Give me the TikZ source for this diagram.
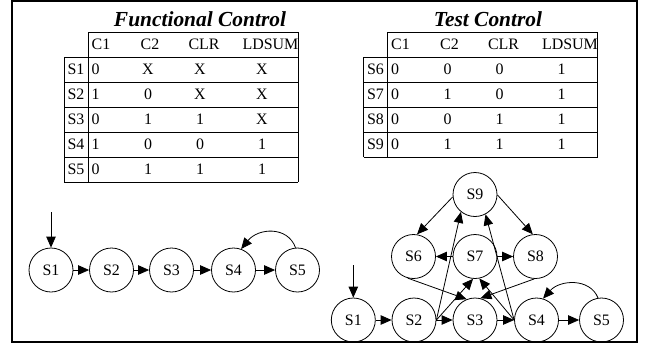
\documentclass[tikz,border=0pt]{standalone}
\usepackage{fontspec}
\setmainfont{Liberation Serif}
\usetikzlibrary{arrows.meta}
\begin{document}
\begin{tikzpicture}[x=1bp,y=-1bp,
  state/.style={draw,circle,minimum size=44bp,inner sep=0pt,line width=0.8bp,
    font=\fontsize{16}{16}\selectfont},
  edge/.style={line width=0.8bp,-{Triangle[length=11bp,width=9.5bp]}},
  grid/.style={line width=0.8bp},
  cell/.style={inner sep=0pt,font=\fontsize{16}{16}\selectfont},
  title/.style={inner sep=0pt,font=\fontsize{21.5}{22}\selectfont\bfseries\itshape}]
\useasboundingbox (0,0) rectangle (645,353);
\draw[line width=2bp] (12,1) rectangle (636.5,342);

% ---------- Functional control table ----------
\node[title] (ftitle) at (200,19.5) {Functional Control};
\draw[grid] (88,32) -- (298,32);
\foreach \y in {57,82,...,182} \draw[grid] (64,\y) -- (298,\y);
\draw[grid] (64,57) -- (64,182);
\draw[grid] (88,32) -- (88,182);
\draw[grid] (298,32) -- (298,182);
\node[cell,anchor=west] (fhc1) at (91.5,44.5) {C1};
\node[cell] (fhc2) at (150,44.5) {C2};
\node[cell] (fhclr) at (204,44.5) {CLR};
\node[cell] (fhld) at (270.5,44.5) {LDSUM};
\foreach \n/\a/\b/\c/\d [count=\i] in {S1/0/X/X/X,S2/1/0/X/X,S3/0/1/1/X,S4/1/0/0/1,S5/0/1/1/1}{
  \pgfmathsetmacro\yy{44.5+25*\i}
  \node[cell] (f\n) at (76,\yy) {\n};
  \node[cell,anchor=west] (f\n-c1) at (91.5,\yy) {\a};
  \node[cell] (f\n-c2) at (148,\yy) {\b};
  \node[cell] (f\n-clr) at (200,\yy) {\c};
  \node[cell] (f\n-ld) at (262,\yy) {\d};
}

% ---------- Test control table ----------
\node[title] (ttitle) at (488,19.5) {Test Control};
\begin{scope}[xshift=299.5bp]
\draw[grid] (88,32) -- (298,32);
\foreach \y in {57,82,...,157} \draw[grid] (64,\y) -- (298,\y);
\draw[grid] (64,57) -- (64,157);
\draw[grid] (88,32) -- (88,157);
\draw[grid] (298,32) -- (298,157);
\node[cell,anchor=west] (thc1) at (91.5,44.5) {C1};
\node[cell] (thc2) at (150,44.5) {C2};
\node[cell] (thclr) at (204,44.5) {CLR};
\node[cell] (thld) at (270.5,44.5) {LDSUM};
\foreach \n/\a/\b/\c/\d [count=\i] in {S6/0/0/0/1,S7/0/1/0/1,S8/0/0/1/1,S9/0/1/1/1}{
  \pgfmathsetmacro\yy{44.5+25*\i}
  \node[cell] (t\n) at (76,\yy) {\n};
  \node[cell,anchor=west] (t\n-c1) at (91.5,\yy) {\a};
  \node[cell] (t\n-c2) at (148,\yy) {\b};
  \node[cell] (t\n-clr) at (200,\yy) {\c};
  \node[cell] (t\n-ld) at (262,\yy) {\d};
}
\end{scope}

% ---------- Functional state sequence ----------
\node[state] (a1) at (51,270) {S1};
\node[state] (a2) at (111.5,270) {S2};
\node[state] (a3) at (171.5,270) {S3};
\node[state] (a4) at (233.5,270) {S4};
\node[state] (a5) at (297.5,270) {S5};
\coordinate (a0) at (51,212);
\draw[edge] (a0) -- (a1);
\draw[edge] (a1) -- (a2);
\draw[edge] (a2) -- (a3);
\draw[edge] (a3) -- (a4);
\draw[edge] (a4) -- (a5);
\draw[edge] (a5.95) .. controls +(-8,-22) and +(17,-21) .. (a4.70);

% ---------- Test state graph ----------
\node[state] (b9) at (475,194.5) {S9};
\node[state] (b6) at (413.5,256.5) {S6};
\node[state] (b7) at (475,256.5) {S7};
\node[state] (b8) at (535.5,256.5) {S8};
\node[state] (b1) at (353.3,320) {S1};
\node[state] (b2) at (414,320) {S2};
\node[state] (b3) at (475,320) {S3};
\node[state] (b4) at (536.5,320) {S4};
\node[state] (b5) at (601.5,320) {S5};
\coordinate (b0) at (353.3,265);
\draw[edge] (b0) -- (b1);
\draw[edge] (b1) -- (b2);
\draw[edge] (b2) -- (b3);
\draw[edge] (b3) -- (b4);
\draw[edge] (b4) -- (b5);
\draw[edge] (b5.99) .. controls +(-8,-20) and +(17,-19) .. (b4.73);
\draw[edge] (b9.186) -- (b6.81);
\draw[edge] (b9.359) -- (b8.97);
\draw[edge] (b7) -- (b6);
\draw[edge] (b7) -- (b8);
\draw[edge] (b2.east) -- (b9.231);
\draw[edge] (b4.west) -- (b9.298);
\draw[edge] (b2.east) -- (b7.265);
\draw[edge] (b4.west) -- (b7.281);
\draw[edge] (b6.255) -- (b3.112);
\draw[edge] (b8.267) -- (b3.76);
\end{tikzpicture}
\end{document}
